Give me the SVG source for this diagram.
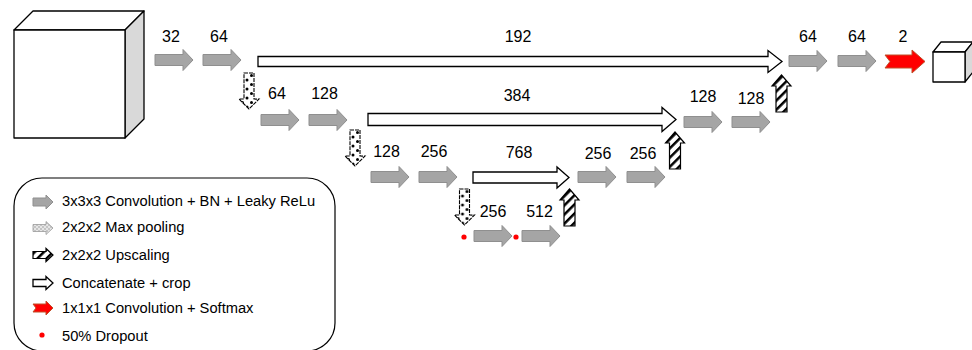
<svg xmlns="http://www.w3.org/2000/svg" width="972" height="350" viewBox="0 0 972 350">
<style>
text{font-family:"Liberation Sans",Arial,sans-serif;fill:#000}
.lab{font-size:16px;text-anchor:middle}
.leg{font-size:14.7px}
.gray{fill:#a5a5a5;stroke:#8f8f8f;stroke-width:1}
.cat{fill:#fff;stroke:#000;stroke-width:1.3}
.pool{fill:url(#dots);stroke:#000;stroke-width:1.1;stroke-dasharray:4 1}
.up{fill:url(#hatch);stroke:#000;stroke-width:1.2}
.red{fill:#ff0000;stroke:#c0502a;stroke-width:1}
.cube{fill:#fff;stroke:#000;stroke-width:1.3;stroke-linejoin:round}
.side{fill:#d9d9d9;stroke:#000;stroke-width:1.3;stroke-linejoin:round}
.drop{fill:#ff0000}
</style>
<defs>
<pattern id="dots" patternUnits="userSpaceOnUse" width="9" height="9">
<rect width="9" height="9" fill="#fff"/>
<circle cx="2.5" cy="2.5" r="1.5" fill="#000"/>
<circle cx="7" cy="7" r="1.5" fill="#000"/>
</pattern>
<pattern id="dotsL" patternUnits="userSpaceOnUse" width="4" height="4">
<rect width="4" height="4" fill="#e6e6e6"/>
<circle cx="1" cy="1" r="0.7" fill="#888"/>
<circle cx="3" cy="3" r="0.7" fill="#888"/>
</pattern>
<pattern id="hatch" patternUnits="userSpaceOnUse" width="6.5" height="6.5" patternTransform="rotate(45)">
<rect width="6.5" height="6.5" fill="#fff"/>
<rect width="2.5" height="6.5" fill="#000"/>
</pattern>
<path id="g" d="M0,-5.5 H28 V-10.5 L38,0 L28,10.5 V5.5 H0 Z"/>
<path id="pd" d="M-5,0 H5 V26 H10 L0,36 L-10,26 H-5 Z"/>
<path id="pu" d="M-5.5,0 V-26 H-9.5 L0,-37 L9.5,-26 H5.5 V0 Z"/>
</defs>

<g id="input-volume">
<path class="cube" d="M14,30 L33,11 H144 L125,30 Z"/>
<path class="side" d="M125,30 L144,11 V119 L125,138 Z"/>
<rect class="cube" x="14" y="30" width="111" height="108"/>
</g>

<g id="output-volume">
<path class="cube" d="M933,52 L941,42 H973 L965,52 Z"/>
<path class="side" d="M965,52 L973,42 V72 L965,82 Z"/>
<rect class="cube" x="933" y="52" width="32" height="30"/>
</g>

<g id="connectors">
<g id="conv-arrows" class="gray">
<use href="#g" x="155" y="60"/>
<use href="#g" x="203" y="60"/>
<use href="#g" x="789" y="61"/>
<use href="#g" x="838" y="61"/>
<use href="#g" x="261" y="120"/>
<use href="#g" x="309" y="120"/>
<use href="#g" x="684" y="122"/>
<use href="#g" x="732" y="122"/>
<use href="#g" x="371" y="177"/>
<use href="#g" x="419" y="177"/>
<use href="#g" x="578" y="177"/>
<use href="#g" x="627" y="177"/>
<use href="#g" x="474" y="236"/>
<use href="#g" x="522" y="236"/>
</g>
<g id="concat-arrows" class="cat">
<path d="M258,56.5 H768 V50.5 L782,61.5 L768,72.5 V66.5 H258 Z"/>
<path d="M368,113.5 H662 V107.5 L676,119.5 L662,131.5 V125.5 H368 Z"/>
<path d="M473,172 H557 V167 L569,177.5 L557,188 V183 H473 Z"/>
</g>
<g id="pool-arrows" class="pool">
<use href="#pd" x="249" y="73"/>
<use href="#pd" x="355" y="130"/>
<use href="#pd" x="464.5" y="189"/>
</g>
<g id="up-arrows" class="up">
<use href="#pu" x="781.5" y="112"/>
<use href="#pu" x="675" y="169"/>
<use href="#pu" x="569.5" y="226"/>
</g>
<path id="softmax-arrow" class="red" d="M885,55 H912 V50 L925,61.5 L912,73 V68 H885 L890,61.5 Z"/>
<g id="dropouts" class="drop">
<circle cx="464" cy="237" r="2.6"/>
<circle cx="516" cy="237" r="2.6"/>
</g>
</g>

<g id="labels">
<text class="lab" x="171" y="42">32</text>
<text class="lab" x="219" y="42">64</text>
<text class="lab" x="518" y="42">192</text>
<text class="lab" x="808" y="42">64</text>
<text class="lab" x="857" y="42">64</text>
<text class="lab" x="903" y="42">2</text>
<text class="lab" x="277" y="99">64</text>
<text class="lab" x="324.5" y="99">128</text>
<text class="lab" x="517" y="101">384</text>
<text class="lab" x="703" y="102">128</text>
<text class="lab" x="751" y="104">128</text>
<text class="lab" x="386.5" y="157">128</text>
<text class="lab" x="434" y="157">256</text>
<text class="lab" x="519" y="158">768</text>
<text class="lab" x="598" y="159">256</text>
<text class="lab" x="643" y="159">256</text>
<text class="lab" x="493" y="217">256</text>
<text class="lab" x="539.5" y="217">512</text>
</g>

<g id="legend">
<rect x="14" y="178" width="321" height="173" rx="28" ry="28" fill="#fff" stroke="#000" stroke-width="1.2"/>
<path class="gray" d="M33,198 H46 V195 L53,202 L46,209 V206 H33 Z"/>
<path d="M33,224.5 H46 V221.5 L53,228 L46,234.5 V231.5 H33 Z" fill="url(#dotsL)" stroke="#999" stroke-width="0.8"/>
<path class="up" d="M33,251.5 H46 V248.5 L53,255 L46,261.5 V258.5 H33 Z"/>
<path class="cat" d="M33,279.5 H46 V276.5 L53,283 L46,289.5 V286.5 H33 Z"/>
<path class="red" d="M33,304 H46 V301 L53,308 L46,315 V312 H33 L36,308 Z"/>
<circle class="drop" cx="42" cy="335" r="2.6"/>
<text class="leg" x="62" y="206">3x3x3 Convolution + BN + Leaky ReLu</text>
<text class="leg" x="62" y="232">2x2x2 Max pooling</text>
<text class="leg" x="62" y="260">2x2x2 Upscaling</text>
<text class="leg" x="62" y="288">Concatenate + crop</text>
<text class="leg" x="62" y="313">1x1x1 Convolution + Softmax</text>
<text class="leg" x="62" y="341">50% Dropout</text>
</g>
</svg>
